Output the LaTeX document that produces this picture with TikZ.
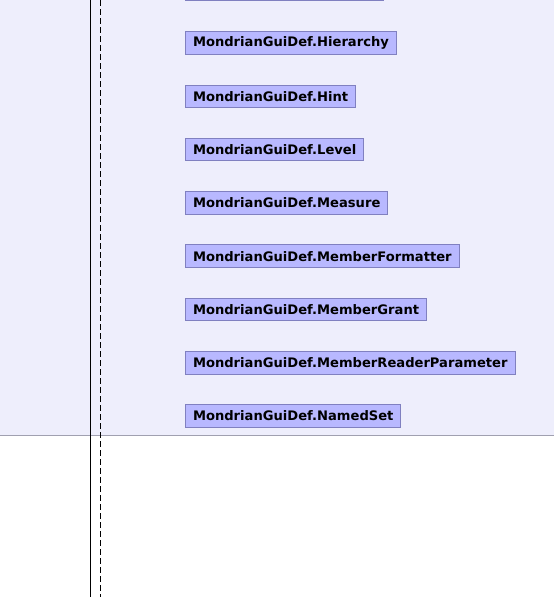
\documentclass[tikz,border=0pt]{standalone}
\usepackage{fontspec}
\setmainfont{DejaVu Sans}
\usetikzlibrary{positioning}
\definecolor{panelbg}{RGB}{238,238,252}
\definecolor{panelline}{RGB}{160,160,176}
\definecolor{boxfill}{RGB}{184,184,255}
\definecolor{boxdraw}{RGB}{128,128,192}
\begin{document}
\begin{tikzpicture}[
        x=1pt, y=-1pt,
        cls/.style={rectangle, draw=boxdraw, fill=boxfill, line width=1pt, minimum height=22.5pt, inner xsep=7.5pt, inner ysep=0pt, anchor=west, font=\fontsize{13.1}{14}\selectfont\bfseries},
        life/.style={black, line width=1pt}
    ]
        \useasboundingbox (0,0) rectangle (554,597);
        \clip (0,0) rectangle (554,597);

        % Panel
        \fill[panelbg] (0,0) rectangle (554,435);
        \draw[panelline, line width=1pt] (0,435) -- (554,435);

        % Classes
        \node[cls, minimum width=198pt] (prev) at (185,-10.5) {};
        \node[cls] (hier) at (185,43) {MondrianGuiDef.Hierarchy};
        \node[cls, below=29.8pt of hier.south west, anchor=north west] (hint) {MondrianGuiDef.Hint};
        \node[cls, below=29.8pt of hint.south west, anchor=north west] (level) {MondrianGuiDef.Level};
        \node[cls, below=29.8pt of level.south west, anchor=north west] (meas) {MondrianGuiDef.Measure};
        \node[cls, below=29.8pt of meas.south west, anchor=north west] (mfmt) {MondrianGuiDef.MemberFormatter};
        \node[cls, below=29.8pt of mfmt.south west, anchor=north west] (mgrant) {MondrianGuiDef.MemberGrant};
        \node[cls, below=29.8pt of mgrant.south west, anchor=north west] (mrp) {MondrianGuiDef.MemberReaderParameter};
        \node[cls, below=29.8pt of mrp.south west, anchor=north west] (nset) {MondrianGuiDef.NamedSet};

        % Lifelines
        \coordinate (l1top) at (90,0);
        \coordinate (l1bot) at (90,597);
        \coordinate (l2top) at (100,0);
        \coordinate (l2bot) at (100,597);
        \draw[life] (l1top) -- (l1bot);
        \draw[life, dash pattern=on 6pt off 3pt] (l2top) -- (l2bot);
    \end{tikzpicture}
\end{document}
